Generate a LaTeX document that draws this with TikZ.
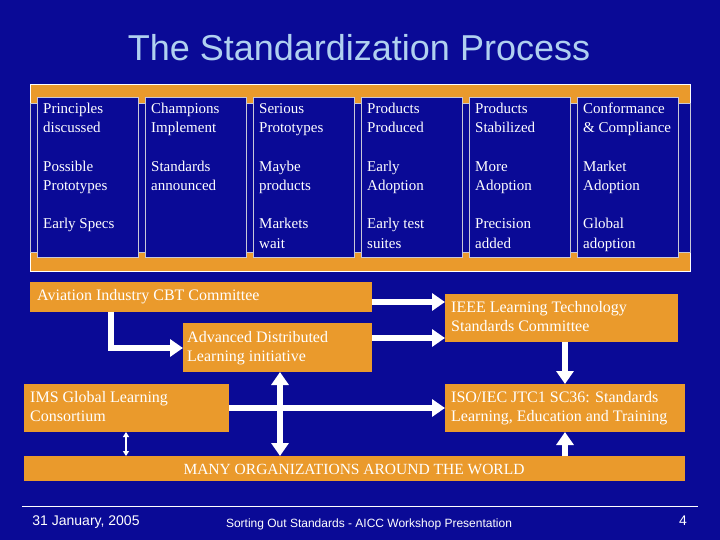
\documentclass[tikz,border=0pt]{standalone}
\usepackage{fontspec}
\setmainfont{Liberation Serif}
\newfontfamily\arial{Liberation Sans}
\usetikzlibrary{arrows.meta}
\definecolor{bg}{HTML}{0A0A96}
\definecolor{org}{HTML}{EA9A2C}
\definecolor{ttl}{HTML}{B0D0F0}
\definecolor{lgr}{HTML}{C8C8D8}
\tikzset{
 cell/.style={fill=bg,draw=lgr,line width=0.6pt},
 ct/.style={anchor=base west,text=white,font=\fontsize{15}{19}\selectfont,inner sep=0pt},
 obox/.style={fill=org,draw=none},
 ot/.style={text=white,font=\fontsize{16}{19.5}\selectfont,inner sep=0pt,anchor=base west},
 bar/.style={white,line width=6pt,-{Triangle[width=17pt,length=13pt]}},
 dbar/.style={white,line width=6pt,{Triangle[width=17pt,length=13pt]}-{Triangle[width=17pt,length=13pt]}},
}
\begin{document}
\begin{tikzpicture}[x=1pt,y=-1pt]
\fill[bg] (0,0) rectangle (720,540);
\useasboundingbox (0,0) rectangle (720,540);
\node[text=ttl,font=\arial\fontsize{36}{40}\selectfont] (title) at (359,48) {The Standardization Process};
% table
\draw[fill=org,draw=white,line width=0.8pt] (30,84) rectangle (690,271);
\draw[fill=bg,draw=lgr,line width=0.6pt] (30,103) rectangle (690,252);
\foreach \i in {0,...,5} \draw[cell] (37+108*\i,97) rectangle (138+108*\i,257);
\foreach \i/\r/\t [count=\k] in {
 0/114/Principles, 0/133/discussed, 0/172/Possible, 0/191/Prototypes, 0/229/Early Specs,
 1/114/Champions, 1/133/Implement, 1/172/Standards, 1/191/announced,
 2/114/Serious, 2/133/Prototypes, 2/172/Maybe, 2/191/products, 2/229/Markets, 2/248/wait,
 3/114/Products, 3/133/Produced, 3/172/Early, 3/191/Adoption, 3/229/Early test, 3/248/suites,
 4/114/Products, 4/133/Stabilized, 4/172/More, 4/191/Adoption, 4/229/Precision, 4/248/added,
 5/114/Conformance, 5/133/\& Compliance, 5/172/Market, 5/191/Adoption, 5/229/Global, 5/248/adoption}
 \node[ct] (t\k) at (43+108*\i,\r) {\t};
% boxes
\fill[obox] (30,282) rectangle (372,312);
\node[ot] (av) at (37,300) {Aviation Industry CBT Committee};
\fill[obox] (183,323) rectangle (372,372);
\node[ot] (adl1) at (187,342) {Advanced Distributed};
\node[ot] (adl2) at (187,361) {Learning initiative};
\fill[obox] (445,294) rectangle (678,342);
\node[ot] (ieee1) at (451,312) {IEEE Learning Technology};
\node[ot] (ieee2) at (451,331) {Standards Committee};
\fill[obox] (24,384) rectangle (229,432);
\node[ot] (ims1) at (30,402) {IMS Global Learning};
\node[ot] (ims2) at (30,421) {Consortium};
\fill[obox] (445,384) rectangle (685,432);
\node[ot] (iso1) at (451,402) {ISO/IEC JTC1 SC36: Standards};
\node[ot] (iso2) at (451,421) {Learning, Education and Training};
\fill[obox] (24,456) rectangle (685,481);
\node[text=white,font=\fontsize{15.5}{18}\selectfont,inner sep=0pt,anchor=base] (many) at (354,474) {MANY ORGANIZATIONS AROUND THE WORLD};
% arrows
\coordinate (p1) at (372,302); \coordinate (q1) at (445,302);
\draw[bar] (p1) -- (q1);
\coordinate (p2) at (372,338); \coordinate (q2) at (445,338);
\draw[bar] (p2) -- (q2);
\coordinate (p3) at (111,312); \coordinate (q3) at (183,348);
\draw[bar] (p3) |- (q3);
\coordinate (p4) at (565,342); \coordinate (q4) at (565,384);
\draw[bar] (p4) -- (q4);
\coordinate (p5) at (229,408); \coordinate (q5) at (445,408);
\draw[bar] (p5) -- (q5);
\coordinate (p6) at (280,372); \coordinate (q6) at (280,456);
\draw[dbar] (p6) -- (q6);
\coordinate (p7) at (126,432); \coordinate (q7) at (126,456);
\draw[white,line width=1.5pt,{Triangle[width=6pt,length=5pt]}-{Triangle[width=6pt,length=5pt]}] (p7) -- (q7);
\coordinate (p8) at (565,456); \coordinate (q8) at (565,432);
\draw[bar] (p8) -- (q8);
% footer
\coordinate (l1) at (22,506); \coordinate (l2) at (698,506);
\draw[white,line width=0.6pt] (l1) -- (l2);
\node[text=white,font=\arial\fontsize{14}{16}\selectfont] (date) at (86,522) {31 January, 2005};
\node[text=white,font=\arial\fontsize{12}{14}\selectfont] (foot) at (369,524) {Sorting Out Standards - AICC Workshop Presentation};
\node[text=white,font=\arial\fontsize{14}{16}\selectfont] (pg) at (683,521) {4};
\end{tikzpicture}
\end{document}
